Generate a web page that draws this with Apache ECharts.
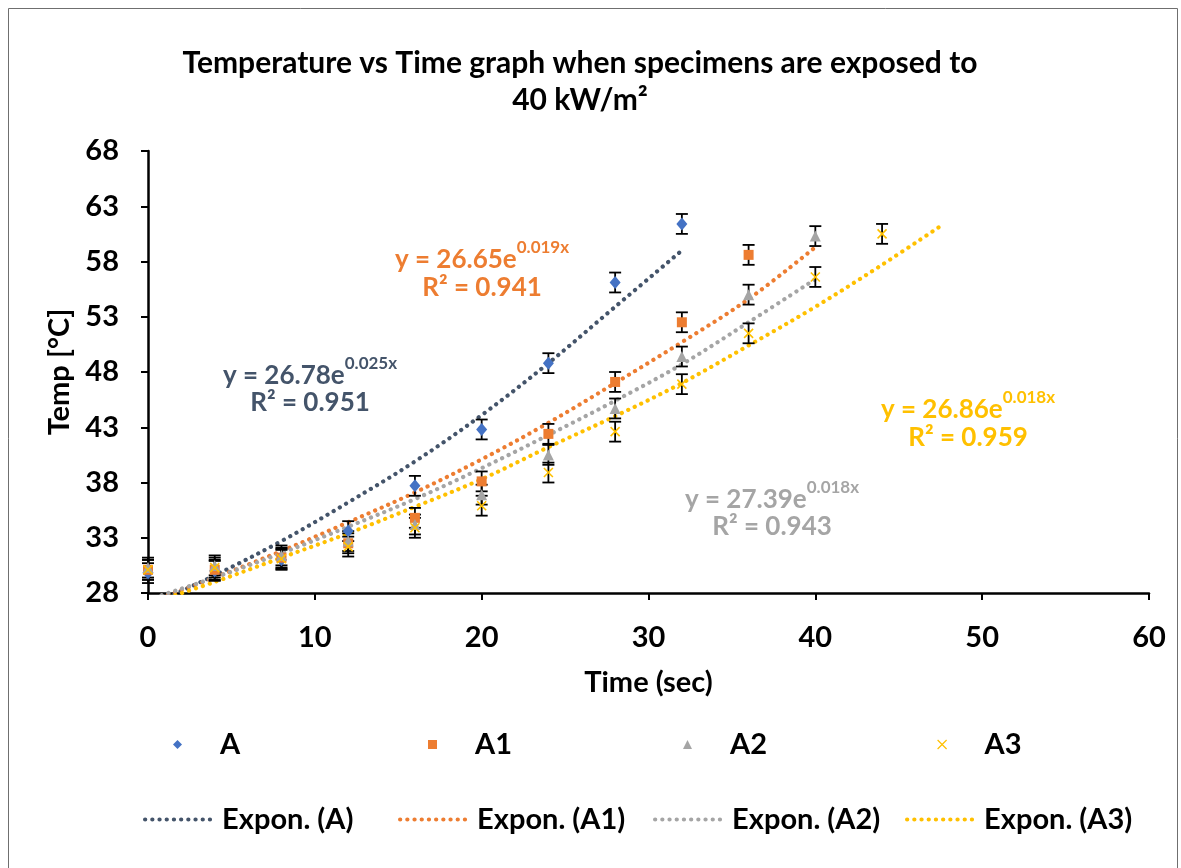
<!DOCTYPE html>
<html>
<head>
<meta charset="utf-8">
<script src="https://cdn.jsdelivr.net/npm/echarts@6/dist/echarts.min.js"></script>
<style>
html,body{margin:0;padding:0;background:#fff;}
#c{width:1181px;height:868px;}
</style>
</head>
<body>
<div id="c"></div>
<script>
// ---- data ----
const timeA  = [0, 4, 8, 12, 16, 20, 24, 28, 32];
const valA   = [29.8, 30.0, 31.0, 33.6, 37.7, 42.8, 48.8, 56.1, 61.4];
const timeA1 = [0, 4, 8, 12, 16, 20, 24, 28, 32, 36];
const valA1  = [30.1, 30.1, 31.2, 32.5, 34.8, 38.1, 42.4, 47.1, 52.5, 58.6];
const timeA2 = [0, 4, 8, 12, 16, 20, 24, 28, 32, 36, 40];
const valA2  = [30.3, 30.5, 31.4, 32.7, 34.2, 36.9, 40.5, 44.7, 49.4, 55.0, 60.3];
const timeA3 = [0, 4, 8, 12, 16, 20, 24, 28, 32, 36, 40, 44];
const valA3  = [30.1, 30.3, 31.1, 32.2, 33.9, 35.9, 38.9, 42.6, 46.9, 51.5, 56.6, 60.5];
const errHalf = 0.9;

// trendlines as drawn
const trendTA  = [0, 4, 8, 12, 16, 20, 24, 28, 32];
const trendVA  = [26.8, 29.6, 32.7, 36.2, 39.9, 44.1, 48.8, 53.9, 59.0];
const trendTA1 = [0, 4, 8, 12, 16, 20, 24, 28, 32, 36, 40];
const trendVA1 = [27.2, 29.4, 31.8, 34.4, 37.1, 40.1, 43.4, 47.0, 50.7, 54.6, 59.3];
const trendTA2 = [0, 4, 8, 12, 16, 20, 24, 28, 32, 36, 40];
const trendVA2 = [27.4, 29.4, 31.6, 34.0, 36.5, 39.3, 42.3, 45.4, 48.7, 52.5, 56.4];
const trendTA3 = [0, 4, 8, 12, 16, 20, 24, 28, 32, 36, 40, 44, 47.7];
const trendVA3 = [27.0, 29.0, 31.2, 33.4, 35.8, 38.3, 41.2, 44.0, 47.0, 50.4, 53.9, 57.7, 61.4];

const xTicks = [0, 10, 20, 30, 40, 50, 60];
const yTicks = [28, 33, 38, 43, 48, 53, 58, 63, 68];

const seriesNames = ['A', 'A1', 'A2', 'A3'];
const trendNames = ['Expon. (A)', 'Expon. (A1)', 'Expon. (A2)', 'Expon. (A3)'];
const equations = [
  {eq: '26.78', exp: '0.025x', r2: '0.951'},
  {eq: '26.65', exp: '0.019x', r2: '0.941'},
  {eq: '27.39', exp: '0.018x', r2: '0.943'},
  {eq: '26.86', exp: '0.018x', r2: '0.959'}
];

// ---- styling ----
const FONT = 'Lato, "Open Sans", "Liberation Sans", sans-serif';
const FS = 29;
const markerColors = ['#4472C4', '#ED7D31', '#A5A5A5', '#FFC000'];
const trendColors = ['#44546A', '#ED7D31', '#A5A5A5', '#FFC000'];
const symbols = ['diamond', 'rect', 'triangle', 'path://M0,0L10,10M10,0L0,10'];
const symbolSizes = [[11, 13], 10, [11, 11], 9];

const pts = [
  [timeA, valA], [timeA1, valA1], [timeA2, valA2], [timeA3, valA3]
];
const trends = [
  [trendTA, trendVA], [trendTA1, trendVA1], [trendTA2, trendVA2], [trendTA3, trendVA3]
];
const pair = (xs, ys) => xs.map((x, i) => [x, ys[i]]);
const dotted = (c) => ({color: c, width: 4.2, type: [0.1, 7.1], cap: 'round'});

const series = [];
// trendlines
trends.forEach((t, i) => {
  series.push({
    name: trendNames[i],
    type: 'line',
    data: pair(t[0], t[1]),
    smooth: 0.35,
    symbol: 'none',
    showSymbol: false,
    clip: true,
    z: 2,
    lineStyle: dotted(trendColors[i]),
    itemStyle: {color: trendColors[i]}
  });
});
// error bars
pts.forEach((p, i) => {
  series.push({
    name: 'err' + i,
    type: 'custom',
    z: 3,
    data: p[0].map((x, k) => [x, p[1][k], errHalf]),
    renderItem: function (params, api) {
      const x = api.value(0), y = api.value(1), e = api.value(2);
      const top = api.coord([x, y + e]);
      const bot = api.coord([x, y - e]);
      const hw = 6;
      const st = {stroke: '#000', lineWidth: 1.8};
      return {
        type: 'group',
        children: [
          {type: 'line', shape: {x1: top[0], y1: top[1], x2: bot[0], y2: bot[1]}, style: st},
          {type: 'line', shape: {x1: top[0] - hw, y1: top[1], x2: top[0] + hw, y2: top[1]}, style: st},
          {type: 'line', shape: {x1: bot[0] - hw, y1: bot[1], x2: bot[0] + hw, y2: bot[1]}, style: st}
        ]
      };
    }
  });
});
// markers
pts.forEach((p, i) => {
  const isX = i === 3;
  series.push({
    name: seriesNames[i],
    type: 'scatter',
    z: 4,
    data: pair(p[0], p[1]),
    symbol: symbols[i],
    symbolSize: symbolSizes[i],
    itemStyle: isX
      ? {color: markerColors[i], borderColor: markerColors[i], borderWidth: 1.6, opacity: 1}
      : {color: markerColors[i], opacity: 1}
  });
});

// legends: one per item, fixed slots
const legendIconCx = [178, 433, 688, 942];
const legendX = [143, 398, 653, 905];
const legends = [];
seriesNames.forEach((n, i) => {
  legends.push({
    data: [{name: n, icon: symbols[i]}],
    left: legendIconCx[i] - 5, top: 730, padding: 0,
    itemWidth: 9, itemHeight: 9, itemGap: 0,
    selectedMode: false,
    itemStyle: i === 3 ? {borderWidth: 1.2} : {},
    textStyle: {fontFamily: FONT, fontWeight: 'bold', fontSize: FS, color: '#000', padding: [0, 0, 0, 33]}
  });
});
trendNames.forEach((n, i) => {
  legends.push({
    data: [n],
    left: legendX[i], top: 805, padding: 0,
    itemWidth: 70, itemHeight: 14, itemGap: 0,
    selectedMode: false,
    itemStyle: {opacity: 0},
    lineStyle: dotted(trendColors[i]),
    textStyle: {fontFamily: FONT, fontWeight: 'bold', fontSize: FS, color: '#000', padding: [0, 0, 0, 2]}
  });
});

// equation annotations
const eqPos = [[310, 372, 403], [482, 256, 288], [772, 496, 527], [968, 406, 438]];
const graphics = [{
  type: 'rect', silent: true,
  shape: {x: 8.5, y: 8.5, width: 1169, height: 880},
  style: {fill: 'none', stroke: '#6f6f6f', lineWidth: 1}
}];
equations.forEach((e, i) => {
  const [cx, y1, y2] = eqPos[i];
  const col = trendColors[i];
  graphics.push({
    type: 'text', x: cx, y: y1, z: 10,
    style: {
      text: '{b|y = ' + e.eq + 'e}{s|' + e.exp + '}',
      align: 'center', verticalAlign: 'middle',
      rich: {
        b: {fontFamily: FONT, fontWeight: 'bold', fontSize: 26, fill: col, lineHeight: 34, verticalAlign: 'bottom'},
        s: {fontFamily: FONT, fontWeight: 'bold', fontSize: 17, fill: col, lineHeight: 34, verticalAlign: 'top', padding: [0, 0, 0, 0]}
      }
    }
  });
  graphics.push({
    type: 'text', x: cx, y: y2, z: 10,
    style: {
      text: 'R² = ' + e.r2,
      align: 'center', verticalAlign: 'middle',
      fontFamily: FONT, fontWeight: 'bold', fontSize: 26, fill: col
    }
  });
});

const chart = echarts.init(document.getElementById('c'), null, {renderer: 'canvas'});
chart.setOption({
  backgroundColor: '#fff',
  animation: false,
  textStyle: {fontFamily: FONT},
  title: {
    text: 'Temperature vs Time graph when specimens are exposed to\n40 kW/m²',
    left: 575, top: 40, textAlign: 'center',
    textStyle: {fontFamily: FONT, fontWeight: 'bold', fontSize: 30, color: '#000', lineHeight: 37}
  },
  grid: {left: 148, right: 32, top: 151, bottom: 275, containLabel: false},
  xAxis: {
    type: 'value', min: xTicks[0], max: xTicks[xTicks.length - 1], interval: 10,
    name: 'Time (sec)', nameLocation: 'middle', nameGap: 75,
    nameTextStyle: {fontFamily: FONT, fontWeight: 'bold', fontSize: FS, color: '#000'},
    axisLine: {show: true, onZero: false, lineStyle: {color: '#000', width: 2.5}},
    axisTick: {show: true, inside: false, length: 7, lineStyle: {color: '#000', width: 2}},
    axisLabel: {fontFamily: FONT, fontWeight: 'bold', fontSize: FS, color: '#000', margin: 30},
    splitLine: {show: false}
  },
  yAxis: {
    type: 'value', min: yTicks[0], max: yTicks[yTicks.length - 1], interval: 5,
    name: 'Temp [°C]', nameLocation: 'middle', nameGap: 72, nameRotate: 90,
    nameTextStyle: {fontFamily: FONT, fontWeight: 'bold', fontSize: FS, color: '#000'},
    axisLine: {show: true, onZero: false, lineStyle: {color: '#000', width: 2.5}},
    axisTick: {show: true, inside: false, length: 7, lineStyle: {color: '#000', width: 2}},
    axisLabel: {fontFamily: FONT, fontWeight: 'bold', fontSize: FS, color: '#000', margin: 29},
    splitLine: {show: false}
  },
  legend: legends,
  graphic: graphics,
  series: series
});
</script>
</body>
</html>
